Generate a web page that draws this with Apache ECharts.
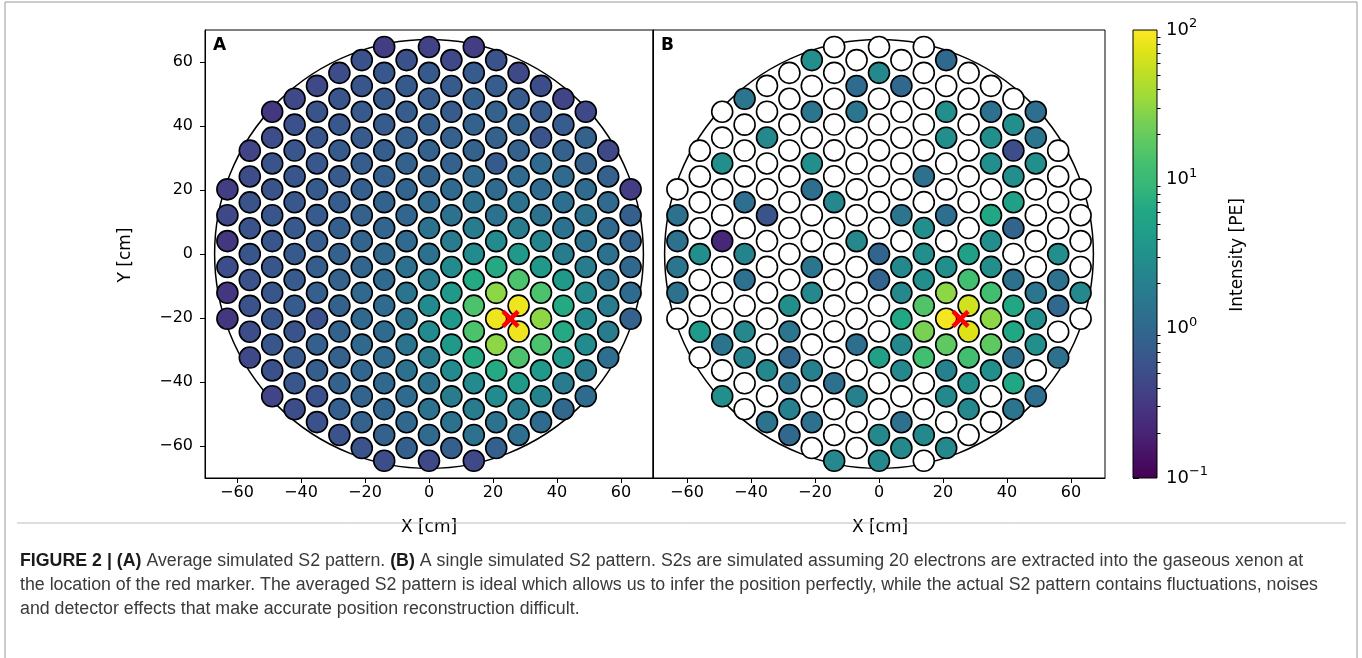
<!DOCTYPE html>
<html><head><meta charset="utf-8">
<script src="https://cdn.jsdelivr.net/npm/echarts@6/dist/echarts.min.js"></script>
<style>html,body{margin:0;padding:0;background:#fff}#c{width:1362px;height:658px}</style>
</head><body><div id="c"></div>
<script>
// PMT lattice (cm): column x positions, y of the top PMT in each column, vertical pitch
const columnX = [-63,-56,-49,-42,-35,-28,-21,-14,-7,0,7,14,21,28,35,42,49,56,63];
const columnTopY = [20.2,32.3,44.45,48.5,52.55,56.6,60.6,64.7,60.6,64.7,60.6,64.7,60.6,56.6,52.55,48.5,44.45,32.3,20.2];
const rowPitch = 8.083;

// Panel A: average S2 pattern, intensity [PE] per PMT, column by column, top to bottom
const intensityA = [
  [0.35,0.45,0.3,0.5,0.3,0.3],
  [0.4,0.5,0.6,0.6,0.62,0.6,0.6,0.5,0.45],
  [0.3,0.5,0.6,0.6,0.62,0.62,0.63,0.63,0.63,0.62,0.55,0.4],
  [0.45,0.55,0.62,0.62,0.65,0.68,0.7,0.72,0.72,0.6,0.72,0.65,0.5],
  [0.45,0.6,0.62,0.65,0.7,0.72,0.75,0.78,0.8,0.55,0.8,0.78,0.55,0.55],
  [0.5,0.62,0.65,0.7,0.72,0.75,0.8,0.85,0.85,0.88,0.88,0.85,0.85,0.8,0.6],
  [0.55,0.62,0.68,0.72,0.75,0.8,0.85,0.9,0.95,1.0,1.0,1.0,0.95,0.9,0.85,0.6],
  [0.35,0.65,0.7,0.72,0.78,0.82,0.88,0.95,1.0,1.05,1.1,1.1,1.05,1.0,0.95,0.85,0.5],
  [0.55,0.7,0.75,0.8,0.85,0.9,0.95,1.05,1.3,1.4,1.4,1.4,1.35,1.1,1.0,0.8],
  [0.38,0.7,0.75,0.8,0.85,0.88,1.05,1.35,1.35,1.8,2.6,2.6,1.8,1.35,1.35,1.05,0.45],
  [0.45,0.72,0.72,0.85,0.85,1.05,1.35,1.8,2.6,3.8,3.8,3.8,2.6,1.8,1.35,0.8],
  [0.35,0.72,0.8,0.85,0.85,1.05,1.35,1.8,2.6,6.5,14,14,6.5,2.6,1.8,1.35,0.45],
  [0.6,0.75,0.85,0.85,0.7,1.05,1.35,2.6,6.5,30,85,30,6.5,2.6,1.35,0.8],
  [0.45,0.72,0.85,0.85,1.05,1.35,1.8,3.8,14,85,85,14,3.8,1.8,1.2],
  [0.5,0.72,0.6,1.05,1.05,1.35,2.2,3.8,14,30,14,3.8,2.2,1.1],
  [0.4,0.75,0.85,1.05,1.2,1.35,1.8,3.8,6.5,6.5,3.8,1.8,1.0],
  [0.45,0.85,0.85,1.05,1.35,1.35,1.8,2.6,2.6,2.6,1.8,1.1],
  [0.45,0.85,1.05,1.05,1.35,1.35,1.8,1.8,1.2],
  [0.35,0.8,0.9,1.0,1.1,0.85]
];
// Panel B: single S2 pattern, 0 = no signal (white)
const intensityB = [
  [0,1.3,1.3,1.5,1.3,0],
  [0,0,0,0,3,0,0,4,0],
  [0,0,3,0,0,0.22,0,0,0,1.4,0,3],
  [1.5,0,0,0,1.2,0,2.2,1.3,0,2.5,2.2,0,0],
  [0,0,2.5,0,0,0.6,0,0,0,0,0,2.5,0,1.4],
  [0,0,0,0,0,0,0,0,0,3,1.5,1.0,1.5,2,1.0],
  [3,0,1.5,0,3,1.2,0,0,1.5,2.5,0,0,2,0,1.3,0],
  [0,0,0,0,0,0,2.5,0,0,0,0,0,0,1.3,0,0,2.5],
  [0,1.1,1.5,0,0,0,0,2.5,0,0,0,1.2,0,2,0,0],
  [0,2.5,0,0,0,0,0,0,0.9,0.9,0,0,5,0,0,2.5,2.5],
  [0,1.0,0,0,0,0,1.5,0,2.5,2.5,6,2.5,2.5,0,1.3,2.5],
  [0,0,0,0,0,1.3,0,3,3,3,15,25,12,0,0,2.5,0],
  [1.0,0,3,3,0,0,1.2,0,3,30,90,18,2,2.5,0,2.5],
  [0,0,0,0,0,0,0,5,12,60,70,12,3,2.5,0],
  [0,1.3,3,3,0,6,3,3,12,30,18,3,0,0],
  [0,3,0.5,3,5,0.9,0,1.3,6,6,1.3,6,1.5],
  [1.2,1.5,3,0,0,0,0,1.5,3,3,0,1.2],
  [0,0,0,0,3,1.3,1.0,0,1.3],
  [0,0,0,0,2.5,0]
];
const markerXY = [25.5, -20.3];
const wallRadius = 67;
const xTicks = [-60,-40,-20,0,20,40,60];
const yTicks = [-60,-40,-20,0,20,40,60];
const cbarDecades = [-1,0,1,2];
const captionLines = [
  '{b|FIGURE 2 | (A)} Average simulated S2 pattern. {b|(B)} A single simulated S2 pattern. S2s are simulated assuming 20 electrons are extracted into the gaseous xenon at',
  'the location of the red marker. The averaged S2 pattern is ideal which allows us to infer the position perfectly, while the actual S2 pattern contains fluctuations, noises',
  'and detector effects that make accurate position reconstruction difficult.'
];

const viridis = ['#440154','#471164','#482475','#46337f','#414487','#3b528b','#355f8d','#2f6c8e','#2a788e','#25848e','#21918c','#1f9e89','#22a884','#35b779','#44bf70','#5ec962','#7ad151','#9fda3a','#bddf26','#dfe318','#fde725'];

function buildPoints(intensity) {
  const colored = [], empty = [];
  columnX.forEach((x, c) => {
    intensity[c].forEach((v, i) => {
      const y = columnTopY[c] - i * rowPitch;
      if (v > 0) colored.push([x, y, Math.log10(v), v]);
      else empty.push([x, y]);
    });
  });
  return {colored, empty};
}
const A = buildPoints(intensityA);
const B = buildPoints(intensityB);

const minus = v => (v < 0 ? '\u2212' + Math.abs(v) : String(v));
const FONT = 'DejaVu Sans';
const CAP_FONT = 'Liberation Sans';
const CAP_SIZE = 18;
const pmtSize = 21;
const pmtBorder = {borderColor:'#000', borderWidth:1.6};

// horizontal squeeze so the caption reads like the condensed original
const mctx = document.createElement('canvas').getContext('2d');
mctx.font = CAP_SIZE + 'px "' + CAP_FONT + '"';
const capScale = 1298 / mctx.measureText(captionLines[1]).width;

function xAxisFor(g, lim) {
  return {
    gridIndex:g, type:'value', min:-lim, max:lim,
    axisLine:{show:true, onZero:false, lineStyle:{color:'#000', width:1}},
    axisTick:{show:true, customValues:xTicks, length:5, lineStyle:{color:'#000', width:1}},
    axisLabel:{show:true, customValues:xTicks, formatter:minus, color:'#000', fontSize:16, fontFamily:FONT, margin:7},
    splitLine:{show:false}
  };
}
function yAxisFor(g, showLabels) {
  return {
    gridIndex:g, type:'value', min:-70, max:70,
    axisLine:{show:true, onZero:false, lineStyle:{color:'#000', width:1}},
    axisTick:{show:showLabels, customValues:yTicks, length:5, lineStyle:{color:'#000', width:1}},
    axisLabel:{show:showLabels, customValues:yTicks, formatter:minus, color:'#000', fontSize:16, fontFamily:FONT, margin:12},
    splitLine:{show:false}
  };
}
function wallSeries(g) {
  return {
    type:'custom', xAxisIndex:g, yAxisIndex:g, data:[[0,0]], silent:true, z:1,
    renderItem:(params, api) => {
      const c = api.coord([0,0]);
      const r = api.size([wallRadius, 0])[0];
      return {type:'circle', shape:{cx:c[0], cy:c[1], r:r}, style:{fill:'none', stroke:'#000', lineWidth:1.5}};
    }
  };
}
function markerSeries(g) {
  return {
    type:'custom', xAxisIndex:g, yAxisIndex:g, data:[markerXY], silent:true, z:10,
    renderItem:(params, api) => {
      const p = api.coord([api.value(0), api.value(1)]);
      const s = 7.5;
      const st = {stroke:'#ff0000', lineWidth:4.5};
      return {type:'group', children:[
        {type:'line', shape:{x1:p[0]-s, y1:p[1]-s, x2:p[0]+s, y2:p[1]+s}, style:st},
        {type:'line', shape:{x1:p[0]-s, y1:p[1]+s, x2:p[0]+s, y2:p[1]-s}, style:st}
      ]};
    }
  };
}
function pmtSeries(g, data, white) {
  return {
    type:'scatter', xAxisIndex:g, yAxisIndex:g, data:data, symbol:'circle', symbolSize:pmtSize,
    itemStyle: white ? Object.assign({color:'#fff', opacity:1}, pmtBorder) : Object.assign({opacity:1}, pmtBorder),
    emphasis:{disabled:true}, silent:true, z:5
  };
}

const minorTicks = [];
cbarDecades.slice(0, -1).forEach(k => { for (let j = 2; j <= 9; j++) minorTicks.push(k + Math.log10(j)); });

const capStyle = (text, y) => ({
  type:'text', x:20, y:y, scaleX:capScale, scaleY:1,
  style:{text:text, fontSize:CAP_SIZE, fontFamily:CAP_FONT, fill:'#3a3a3a', verticalAlign:'middle',
    rich:{b:{fontSize:CAP_SIZE, fontFamily:CAP_FONT, fontWeight:'bold', fill:'#1a1a1a'}}}
});

const option = {
  animation:false,
  backgroundColor:'#fff',
  grid:[
    {left:205, top:30, width:448, height:448, show:true, borderColor:'#000', borderWidth:1},
    {left:653, top:30, width:452, height:448, show:true, borderColor:'#000', borderWidth:1},
    {left:1133, top:30, width:24, height:448, show:false}
  ],
  xAxis:[xAxisFor(0,70), xAxisFor(1,70.625), {gridIndex:2, type:'value', min:0, max:1, show:false}],
  yAxis:[yAxisFor(0,true), yAxisFor(1,false),
    {gridIndex:2, type:'value', min:-1, max:2, position:'right',
     axisLine:{show:false}, splitLine:{show:false},
     axisTick:{show:true, customValues:cbarDecades, length:6, lineStyle:{color:'#000'}},
     axisLabel:{customValues:cbarDecades, margin:9, color:'#000',
       formatter:v => '{b|10}{s|' + minus(v) + '}',
       rich:{b:{fontSize:18, fontFamily:FONT, color:'#000'}, s:{fontSize:13, fontFamily:FONT, color:'#000', padding:[0,0,12,0]}}}},
    {gridIndex:2, type:'value', min:-1, max:2, position:'right',
     axisLine:{show:false}, splitLine:{show:false}, axisLabel:{show:false},
     axisTick:{show:true, customValues:minorTicks, length:3.5, lineStyle:{color:'#000'}}}
  ],
  visualMap:{type:'continuous', show:false, dimension:2, min:-1, max:2, seriesIndex:[1,5], inRange:{color:viridis}},
  series:[
    wallSeries(0),
    pmtSeries(0, A.colored, false),
    markerSeries(0),
    wallSeries(1),
    pmtSeries(1, B.empty, true),
    pmtSeries(1, B.colored, false),
    markerSeries(1),
    {type:'custom', xAxisIndex:2, yAxisIndex:2, data:[[0,0]], silent:true,
     renderItem:(params, api) => {
       const cs = params.coordSys;
       const stops = viridis.map((c, i) => ({offset:i/(viridis.length-1), color:c}));
       return {type:'rect', shape:{x:cs.x, y:cs.y, width:cs.width, height:cs.height},
         style:{fill:new echarts.graphic.LinearGradient(0,1,0,0,stops), stroke:'#000', lineWidth:1}};
     }}
  ],
  graphic:[
    {type:'text', left:213, top:37, style:{text:'A', font:'bold 17px "DejaVu Sans"', fill:'#000'}},
    {type:'text', left:661, top:37, style:{text:'B', font:'bold 17px "DejaVu Sans"', fill:'#000'}},
    {type:'text', x:429, y:528, style:{text:'X [cm]', font:'17px "DejaVu Sans"', fill:'#000', align:'center', verticalAlign:'middle'}},
    {type:'text', x:880, y:528, style:{text:'X [cm]', font:'17px "DejaVu Sans"', fill:'#000', align:'center', verticalAlign:'middle'}},
    {type:'text', x:126, y:255, rotation:Math.PI/2, style:{text:'Y [cm]', font:'17px "DejaVu Sans"', fill:'#000', align:'center', verticalAlign:'middle'}},
    {type:'text', x:1238, y:255, rotation:Math.PI/2, style:{text:'Intensity [PE]', font:'17px "DejaVu Sans"', fill:'#000', align:'center', verticalAlign:'middle'}},
    {type:'rect', shape:{x:5, y:2, width:1352, height:700}, style:{fill:'none', stroke:'#999', lineWidth:1}},
    {type:'line', shape:{x1:17, y1:523, x2:1346, y2:523}, style:{stroke:'#bbb', lineWidth:1}},
    capStyle(captionLines[0], 561),
    capStyle(captionLines[1], 585),
    capStyle(captionLines[2], 609)
  ]
};
echarts.init(document.getElementById('c'), null, {renderer:'canvas'}).setOption(option);
</script></body></html>
